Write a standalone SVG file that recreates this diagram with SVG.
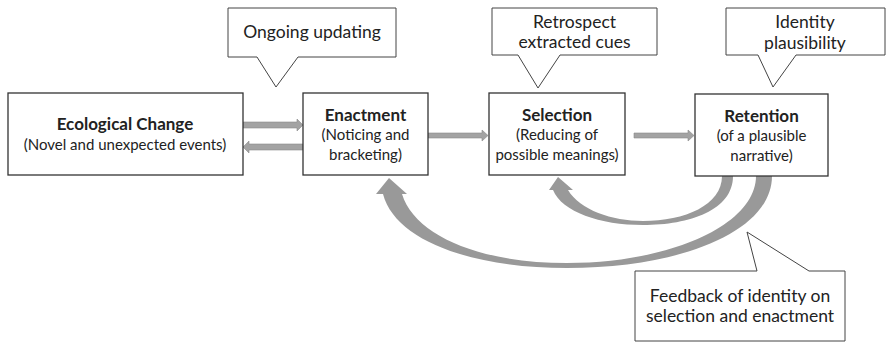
<svg xmlns="http://www.w3.org/2000/svg" width="888" height="343" viewBox="0 0 888 343">
<style>
.box{fill:#fff;stroke:#333;stroke-width:1.3}
.call{fill:#fff;stroke:#444;stroke-width:1}
.t{font-family:Lato,"Open Sans",sans-serif;fill:#222;text-anchor:middle}
.b{font-weight:bold;font-size:17px}
.s{font-size:15px}
.c{font-size:17.5px}
.arr{fill:#a3a3a3;stroke:#8a8a8a;stroke-width:0.6}
.curve{fill:#999}
</style>
<rect width="888" height="343" fill="#fff"/>
<g id="connectors">
<path class="arr" d="M243,122 L297,122 L297,119 L303,125 L297,131 L297,128 L243,128 Z"/>
<path class="arr" d="M303,144 L249,144 L249,141 L243,147 L249,153 L249,150 L303,150 Z"/>
<path class="arr" d="M428,133 L482,133 L482,130 L488,135.5 L482,141 L482,138 L428,138 Z"/>
<path class="arr" d="M634,133 L688,133 L688,130 L694,135.5 L688,141 L688,138 L634,138 Z"/>
<path class="curve" d="M733,176 C733,210 690,225 643,225 C600,225 562,212 553,190 L549,190 L558,177 L573,190 L568,190 C580,210 612,221 643,221 C685,221 722,205 722,176 Z"/>
<path class="curve" d="M772,176 C772,232 680,268 567,268 C470,268 395,240 383,194 L376,194 L389,178 L407,194 L402,194 C415,236 480,263 567,263 C670,263 756,225 756,176 Z"/>
</g>
<g id="ecological">
<rect class="box" x="8" y="93" width="235" height="82"/>
<text class="t b" x="125" y="130">Ecological Change</text>
<text class="t s" x="125" y="150">(Novel and unexpected events)</text>
</g>
<g id="enactment">
<rect class="box" x="303" y="93" width="125" height="82"/>
<text class="t b" x="365.5" y="121">Enactment</text>
<text class="t s" x="365.5" y="140">(Noticing and</text>
<text class="t s" x="365.5" y="160">bracketing)</text>
</g>
<g id="selection">
<rect class="box" x="489" y="93" width="136" height="82"/>
<text class="t b" x="557" y="121">Selection</text>
<text class="t s" x="557" y="140">(Reducing of</text>
<text class="t s" x="557" y="160">possible meanings)</text>
</g>
<g id="retention">
<rect class="box" x="695" y="94" width="133" height="82"/>
<text class="t b" x="761.5" y="122">Retention</text>
<text class="t s" x="761.5" y="141">(of a plausible</text>
<text class="t s" x="761.5" y="161">narrative)</text>
</g>
<g id="callout-ongoing">
<path class="call" d="M228,8 L396,8 L396,57 L298,57 L276,87 L257,57 L228,57 Z"/>
<text class="t c" x="312" y="38">Ongoing updating</text>
</g>
<g id="callout-retrospect">
<path class="call" d="M492,8 L657,8 L657,55 L560,55 L538,88 L518,55 L492,55 Z"/>
<text class="t c" x="574.5" y="28">Retrospect</text>
<text class="t c" x="574.5" y="48">extracted cues</text>
</g>
<g id="callout-identity">
<path class="call" d="M726,8 L885,8 L885,55 L796,55 L773,87 L758,55 L726,55 Z"/>
<text class="t c" x="805" y="28">Identity</text>
<text class="t c" x="805" y="49">plausibility</text>
</g>
<g id="callout-feedback">
<path class="call" d="M635,271 L757,271 L747,232 L809,271 L845,271 L845,341 L635,341 Z"/>
<text class="t c" x="740" y="302">Feedback of identity on</text>
<text class="t c" x="740" y="322">selection and enactment</text>
</g>
</svg>
